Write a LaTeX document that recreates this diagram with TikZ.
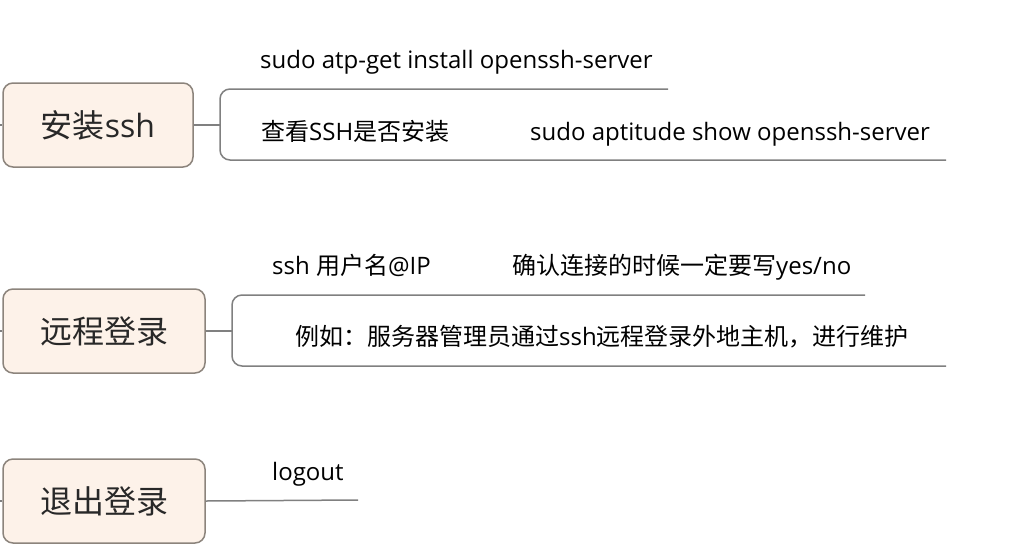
\documentclass[tikz,border=0pt]{standalone}
\usepackage{fontspec}
\usepackage{tikz}
\setmainfont{Open Sans}
\newfontfamily\cjk{Noto Sans CJK SC}
\newcommand{\zh}[1]{{\cjk #1}}
\definecolor{boxfill}{RGB}{253,242,233}
\definecolor{boxline}{RGB}{140,132,124}
\definecolor{linegray}{RGB}{128,128,128}
\definecolor{txt}{RGB}{40,40,40}

\begin{document}
\begin{tikzpicture}[x=1pt,y=-1pt,
    topic/.style={draw=boxline, fill=boxfill, line width=1.5pt, rounded corners=10pt,
      minimum height=84pt, inner sep=0pt, text=txt, font=\fontsize{32}{38}\selectfont},
    leaf/.style={anchor=base west, inner sep=0pt, text=black, font=\fontsize{24}{28}\selectfont},
    branch/.style={draw=linegray, line width=1.5pt},
    bracket/.style={branch, rounded corners=10pt}]

  \useasboundingbox (0,0) rectangle (1012,558);

  \node[topic, minimum width=190pt] (a) at (98,125) {\zh{安装}ssh};
  \node[topic, minimum width=202pt] (b) at (104,331) {\zh{远程登录}};
  \node[topic, minimum width=202pt] (c) at (104,501) {\zh{退出登录}};

  \coordinate (ain) at (0,125);
  \coordinate (bin) at (0,331);
  \coordinate (cin) at (0,501);
  \coordinate (a0) at (220,125);
  \coordinate (a1) at (668,89);
  \coordinate (a2) at (946,160);
  \coordinate (b0) at (232,331);
  \coordinate (b1) at (865,295);
  \coordinate (b2) at (946,366);
  \coordinate (c1) at (358,500);

  \node[leaf] (a11) at (260,68) {sudo atp-get install openssh-server};
  \node[leaf] (a21) at (261,140) {\zh{查看}SSH\zh{是否安装}};
  \node[leaf] (a22) at (530,140) {sudo aptitude show openssh-server};
  \node[leaf] (b11) at (272,274) {ssh \zh{用户名}@IP};
  \node[leaf] (b12) at (512,274) {\zh{确认连接的时候一定要写}yes/no};
  \node[leaf] (b21) at (295,345) {\zh{例如：服务器管理员通过}ssh\zh{远程登录外地主机，进行维护}};
  \node[leaf] (c11) at (272,480) {logout};

  \draw[branch] (ain) -- (a.west);
  \draw[branch] (bin) -- (b.west);
  \draw[branch] (cin) -- (c.west);

  \draw[branch] (a.east) -- (a0);
  \draw[bracket] (a1) -| (a0) |- (a2);
  \draw[branch] (b.east) -- (b0);
  \draw[bracket] (b1) -| (b0) |- (b2);
  \draw[branch] (c.east) -- (c1);

\end{tikzpicture}
\end{document}
